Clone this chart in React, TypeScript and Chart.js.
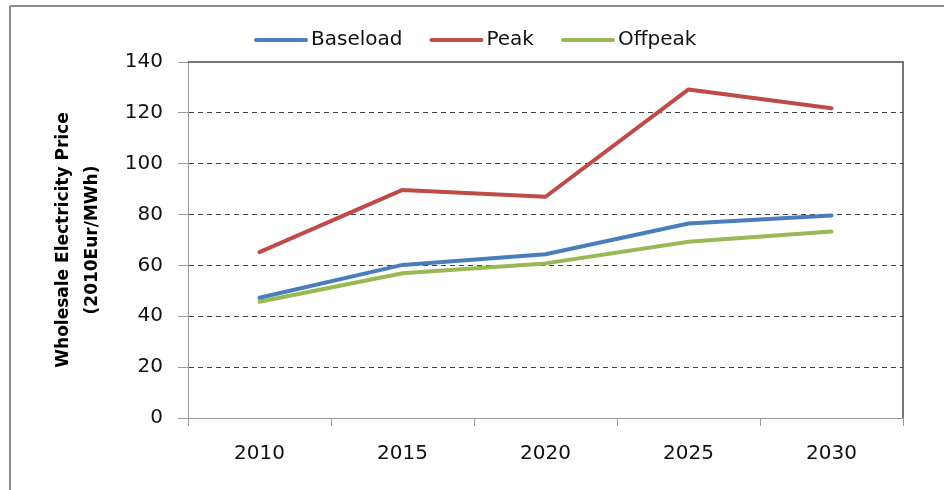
import React, { useEffect, useRef } from "react";
import { Chart, registerables } from "chart.js";

Chart.register(...registerables);

const years = ["2010", "2015", "2020", "2025", "2030"];
const baseload = [47.3, 60.2, 64.4, 76.5, 79.6];
const peak = [65.2, 89.7, 87.0, 129.2, 121.8];
const offpeak = [45.7, 56.9, 60.8, 69.3, 73.3];
const seriesNames = ["Baseload", "Peak", "Offpeak"];
const yTitle = ["Wholesale Electricity Price", "(2010Eur/MWh)"];
const yMin = 0;
const yMax = 140;
const yStep = 20;

const COLORS = ["#4a7ebb", "#be4b48", "#98b954"];
const FONT = "'DejaVu Sans', 'Liberation Sans', sans-serif";

const decorPlugin = {
  id: "decor",
  beforeDraw(chart: any) {
    const ctx = chart.ctx;
    ctx.save();
    ctx.fillStyle = "#ffffff";
    ctx.fillRect(0, 0, chart.width, chart.height);
    ctx.strokeStyle = "#8c8c8c";
    ctx.lineWidth = 2;
    ctx.beginPath();
    ctx.moveTo(10, 6);
    ctx.lineTo(chart.width, 6);
    ctx.moveTo(10, 6);
    ctx.lineTo(10, chart.height);
    ctx.stroke();
    ctx.restore();
  },
  beforeDatasetsDraw(chart: any) {
    const { ctx, chartArea } = chart;
    ctx.save();
    ctx.strokeStyle = "#4a4a4a";
    ctx.lineWidth = 1.5;
    ctx.beginPath();
    ctx.moveTo(chartArea.left, chartArea.top);
    ctx.lineTo(chartArea.right, chartArea.top);
    ctx.lineTo(chartArea.right, chartArea.bottom);
    ctx.stroke();
    ctx.restore();
  },
  afterDraw(chart: any) {
    const ctx = chart.ctx;
    ctx.save();
    ctx.font = `20px ${FONT}`;
    ctx.textBaseline = "middle";
    ctx.textAlign = "left";
    let x = 256;
    const y = 40;
    chart.data.datasets.forEach((ds: any) => {
      ctx.strokeStyle = ds.borderColor;
      ctx.lineWidth = 4;
      ctx.lineCap = "round";
      ctx.beginPath();
      ctx.moveTo(x, y);
      ctx.lineTo(x + 50, y);
      ctx.stroke();
      x += 55;
      ctx.fillStyle = "#111";
      ctx.fillText(ds.label, x, y);
      x += ctx.measureText(ds.label).width + 29;
    });
    ctx.restore();
  },
};

export default function App() {
  const canvasRef = useRef<HTMLCanvasElement | null>(null);

  useEffect(() => {
    document.body.style.margin = "0";
    const canvas = canvasRef.current;
    if (!canvas) return;
    const seriesData = [baseload, peak, offpeak];
    const chart = new Chart(canvas, {
      type: "line",
      data: {
        labels: years,
        datasets: seriesNames.map((name, i) => ({
          label: name,
          data: seriesData[i],
          borderColor: COLORS[i],
          backgroundColor: COLORS[i],
          borderWidth: 4,
          pointRadius: 0,
          tension: 0,
          fill: false,
          borderCapStyle: "round" as const,
          borderJoinStyle: "round" as const,
        })),
      },
      options: {
        animation: false,
        responsive: false,
        devicePixelRatio: 1,
        layout: { padding: { left: 0, top: 62, right: 41, bottom: 0 } },
        plugins: {
          legend: { display: false },
          tooltip: { enabled: false },
        },
        scales: {
          x: {
            type: "category",
            offset: true,
            grid: {
              display: true,
              offset: true,
              drawOnChartArea: false,
              drawTicks: true,
              tickLength: 8,
              tickColor: "#9a9a9a",
              tickWidth: 1,
            },
            border: { display: true, color: "#9a9a9a", width: 1 },
            ticks: {
              font: { family: FONT, size: 20 },
              color: "#111",
              padding: 16,
              maxRotation: 0,
            },
            afterFit(scale: any) {
              scale.height = 72;
            },
          },
          y: {
            min: yMin,
            max: yMax,
            ticks: {
              stepSize: yStep,
              font: { family: FONT, size: 20 },
              color: "#111",
              padding: 15,
            },
            grid: {
              color: (c: any) =>
                c.tick && (c.tick.value === yMin || c.tick.value === yMax)
                  ? "rgba(0,0,0,0)"
                  : "#404040",
              lineWidth: 1,
              drawTicks: true,
              tickLength: 10,
              tickColor: "#9a9a9a",
              tickWidth: 1,
              tickBorderDash: [],
            },
            border: { display: true, color: "#9a9a9a", width: 1, dash: [5, 4] },
            title: {
              display: true,
              text: yTitle,
              color: "#000",
              font: { family: FONT, size: 17, weight: "bold", lineHeight: 1.7 },
              padding: { top: 49, bottom: 0 },
            },
            afterFit(scale: any) {
              scale.width = 188;
            },
          },
        },
      },
      plugins: [decorPlugin],
    } as any);
    return () => chart.destroy();
  }, []);

  return (
    <div style={{ width: 944, height: 490 }}>
      <canvas ref={canvasRef} width={944} height={490} />
    </div>
  );
}
